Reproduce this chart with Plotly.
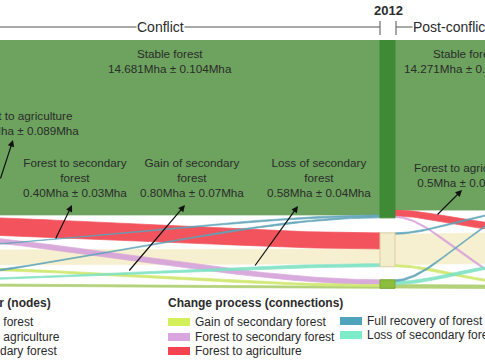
import numpy as np
import plotly.graph_objects as go

# ---------------- data ----------------
node_names = ["Stable forest", "Stable agriculture", "Secondary forest"]
period_names = ["Conflict", "Post-conflict"]
year_label = "2012"

# links: period index, source node, target node, width (Mha), process
link_period = [0, 0, 0, 0, 0, 0, 0, 0, 0, 1, 1, 1, 1, 1, 1, 1, 1, 1]
link_source = [0, 0, 0, 1, 1, 1, 2, 2, 2, 0, 0, 0, 1, 1, 1, 2, 2, 2]
link_target = [0, 1, 2, 0, 1, 2, 0, 1, 2, 0, 1, 2, 0, 1, 2, 0, 1, 2]
link_value = [14.681, 1.344, 0.40, 0.12, 1.25, 0.17, 0.12, 0.25, 0.15,
              14.271, 0.50, 0.12, 0.12, 2.55, 0.17, 0.15, 0.25, 0.30]
link_process = ["Stable forest", "Forest to agriculture", "Forest to secondary forest",
                "Full recovery of forest", "Stable agriculture", "Gain of secondary forest",
                "Full recovery of forest", "Loss of secondary forest", "Stable secondary forest"] * 2

process_legend = ["Gain of secondary forest", "Forest to secondary forest", "Forest to agriculture",
                  "Full recovery of forest", "Loss of secondary forest"]

labels_text = [
    "Stable forest<br>14.681Mha ± 0.104Mha",
    "Forest to agriculture<br>1.344Mha ± 0.089Mha",
    "Forest to secondary<br>forest<br>0.40Mha ± 0.03Mha",
    "Gain of secondary<br>forest<br>0.80Mha ± 0.07Mha",
    "Loss of secondary<br>forest<br>0.58Mha ± 0.04Mha",
    "Stable forest<br>14.271Mha ± 0.103Mha",
    "Forest to agriculture<br>0.5Mha ± 0.04Mha",
]

# ---------------- styles / layout ----------------
W, H = 485, 360
TOP, BOTTOM = 40, 289
PH = BOTTOM - TOP
K = 11.92  # px per Mha
COL_X = [-120, 380, 520]
NODE_W = 15
PADS = [[13, 12], [15, 13], [13, 16]]
CURV = 0.3
FONT = "Liberation Sans, Arial, sans-serif"
TXT = "#2b2b2b"

node_colors = ["#3f8a35", "#f4edcb", "#8dbd3c"]
node_lines = ["#3f8a35", "#d9cf9f", "#7aa834"]
proc_color = {
    "Stable forest": "#6da35e",
    "Stable agriculture": "#f6efd0",
    "Stable secondary forest": "#b3d27a",
    "Forest to agriculture": "#f2454f",
    "Forest to secondary forest": "#d6a3da",
    "Gain of secondary forest": "#cfe86c",
    "Full recovery of forest": "#5fa4b9",
    "Loss of secondary forest": "#7fe2c4",
}
legend_color = {
    "Gain of secondary forest": "#d3f05a",
    "Forest to secondary forest": "#d9a6e0",
    "Forest to agriculture": "#f4424f",
    "Full recovery of forest": "#4fa3bb",
    "Loss of secondary forest": "#7decc9",
}

n_nodes = len(node_names)
val = np.array(link_value)
per = np.array(link_period)
src = np.array(link_source)
tgt = np.array(link_target)

# node sizes per column (Mha)
size = np.zeros((3, n_nodes))
for c in range(3):
    for n in range(n_nodes):
        outv = val[(per == c) & (src == n)].sum() if c < 2 else 0
        inv = val[(per == c - 1) & (tgt == n)].sum() if c > 0 else 0
        size[c, n] = max(outv, inv)

# node tops (Mha, 0 = top of plot)
top = np.zeros((3, n_nodes))
for c in range(3):
    y = 0.0
    for n in range(n_nodes):
        top[c, n] = y
        y += size[c, n]
        if n < n_nodes - 1:
            y += PADS[c][n] / K

fig = go.Figure()


def bez(xs, xt, ys, yt, t):
    w = xt - xs
    x = xs * (1 - t) ** 3 + 3 * (xs + CURV * w) * (1 - t) ** 2 * t + \
        3 * (xt - CURV * w) * (1 - t) * t ** 2 + xt * t ** 3
    y = ys + (yt - ys) * (3 * t ** 2 - 2 * t ** 3)
    return x, y


# link offsets
src_off = np.zeros(len(val))
tgt_off = np.zeros(len(val))
for c in range(2):
    for n in range(n_nodes):
        acc = 0.0
        for i in sorted(np.where((per == c) & (src == n))[0], key=lambda i: tgt[i]):
            src_off[i] = top[c, n] + acc
            acc += val[i]
        acc = 0.0
        for i in sorted(np.where((per == c) & (tgt == n))[0], key=lambda i: src[i]):
            tgt_off[i] = top[c + 1, n] + acc
            acc += val[i]

draw_order = ["Stable forest", "Stable agriculture", "Stable secondary forest",
              "Forest to agriculture", "Forest to secondary forest", "Gain of secondary forest",
              "Loss of secondary forest", "Full recovery of forest"]
t = np.linspace(0, 1, 80)
for proc in draw_order:
    for i in range(len(val)):
        if link_process[i] != proc:
            continue
        c = per[i]
        xs = COL_X[c] + (NODE_W if c == 1 else 0)
        xt = COL_X[c + 1]
        x1, y1 = bez(xs, xt, src_off[i], tgt_off[i], t)
        x2, y2 = bez(xs, xt, src_off[i] + val[i], tgt_off[i] + val[i], t)
        col = proc_color[proc]
        fig.add_trace(go.Scatter(
            x=np.concatenate([x1, x2[::-1]]), y=np.concatenate([y1, y2[::-1]]),
            mode="lines", fill="toself", fillcolor=col,
            line=dict(color=col, width=0.7), opacity=1 if proc.startswith("Stable") else 0.92,
            hoverinfo="skip", showlegend=False))

# nodes
for c in range(3):
    for n in range(n_nodes):
        x0 = COL_X[c] - (NODE_W if c != 1 else 0)
        x1 = x0 + NODE_W
        y0, y1 = top[c, n], top[c, n] + size[c, n]
        fig.add_trace(go.Scatter(
            x=[x0, x1, x1, x0, x0], y=[y0, y0, y1, y1, y0], mode="lines",
            fill="toself", fillcolor=node_colors[n],
            line=dict(color=node_lines[n], width=1), hoverinfo="skip", showlegend=False))


def px(xp):
    return xp / W


def py(yp):
    return (BOTTOM - yp) / PH


ann = []
shapes = []

# header
ann.append(dict(text="<b>" + year_label + "</b>", x=px(388), y=py(10), font=dict(size=13, color=TXT)))
shapes.append(dict(type="line", xref="paper", yref="paper", x0=px(-5), x1=px(380),
                   y0=py(27), y1=py(27), line=dict(color="#555", width=1)))
shapes.append(dict(type="line", xref="paper", yref="paper", x0=px(396), x1=px(700),
                   y0=py(27), y1=py(27), line=dict(color="#555", width=1)))
for xx in (380, 396):
    shapes.append(dict(type="line", xref="paper", yref="paper", x0=px(xx), x1=px(xx),
                       y0=py(21), y1=py(35), line=dict(color="#555", width=1)))
ann.append(dict(text=period_names[0], x=px(160), y=py(27), font=dict(size=14, color=TXT),
                bgcolor="white", borderpad=0))
ann.append(dict(text=period_names[1], x=px(412), y=py(27), xanchor="left",
                font=dict(size=14, color=TXT), bgcolor="white", borderpad=0))

# labels in the chart
lab_pos = [(170, 61), (20, 123), (75, 177), (192, 177), (319, 177), (466, 61), (466, 175)]
for txt, (xx, yy) in zip(labels_text, lab_pos):
    ann.append(dict(text=txt, x=px(xx), y=py(yy), font=dict(size=11.7, color=TXT)))

arrows = [((13, 140), (-8, 180)), ((72, 205), (55, 240)), ((185, 205), (128, 272)),
          ((298, 206), (254, 267)), ((462, 190), (436, 216))]
for (hx, hy), (tx, ty) in arrows:
    ann.append(dict(text="", x=px(hx), y=py(hy), ax=tx - hx, ay=ty - hy, showarrow=True,
                    arrowhead=2, arrowsize=1.1, arrowwidth=1.2, arrowcolor="#111"))

# legends
ann.append(dict(text="<b>Change process (connections)</b>", x=px(166), y=py(303),
                xanchor="left", font=dict(size=12, color=TXT)))
leg_pos = [(168, 322), (168, 337), (168, 351), (340, 321), (340, 335)]
for name, (lx, ly) in zip(process_legend, leg_pos):
    shapes.append(dict(type="rect", xref="paper", yref="paper", x0=px(lx), x1=px(lx + 22),
                       y0=py(ly - 4), y1=py(ly + 4), fillcolor=legend_color[name], line=dict(width=0)))
    ann.append(dict(text=name, x=px(lx + 25), y=py(ly), xanchor="left",
                    font=dict(size=12, color=TXT)))

ann.append(dict(text="<b>Land cover (nodes)</b>", x=px(-62), y=py(303), xanchor="left",
                font=dict(size=12, color=TXT)))
for n, name in enumerate(node_names):
    ly = [322, 337, 351][n]
    shapes.append(dict(type="rect", xref="paper", yref="paper", x0=px(-60), x1=px(-38),
                       y0=py(ly - 4), y1=py(ly + 4), fillcolor=node_colors[n], line=dict(width=0)))
    ann.append(dict(text=name, x=px(-36), y=py(ly), xanchor="left",
                    font=dict(size=12, color=TXT)))

for a in ann:
    a.setdefault("xref", "paper")
    a.setdefault("yref", "paper")
    a.setdefault("showarrow", False)
    a.setdefault("xanchor", "center")
    a.setdefault("yanchor", "middle")

fig.update_layout(
    width=W, height=H, autosize=False,
    margin=dict(l=0, r=0, t=TOP, b=H - BOTTOM, pad=0),
    paper_bgcolor="white", plot_bgcolor="white",
    font=dict(family=FONT, color=TXT),
    xaxis=dict(range=[0, W], visible=False, fixedrange=True),
    yaxis=dict(range=[PH / K, 0], visible=False, fixedrange=True),
    annotations=ann, shapes=shapes, showlegend=False,
)
fig.write_html("out.html", config={"displayModeBar": False},
               post_script="document.body.style.margin='0';document.body.style.overflow='hidden';")
